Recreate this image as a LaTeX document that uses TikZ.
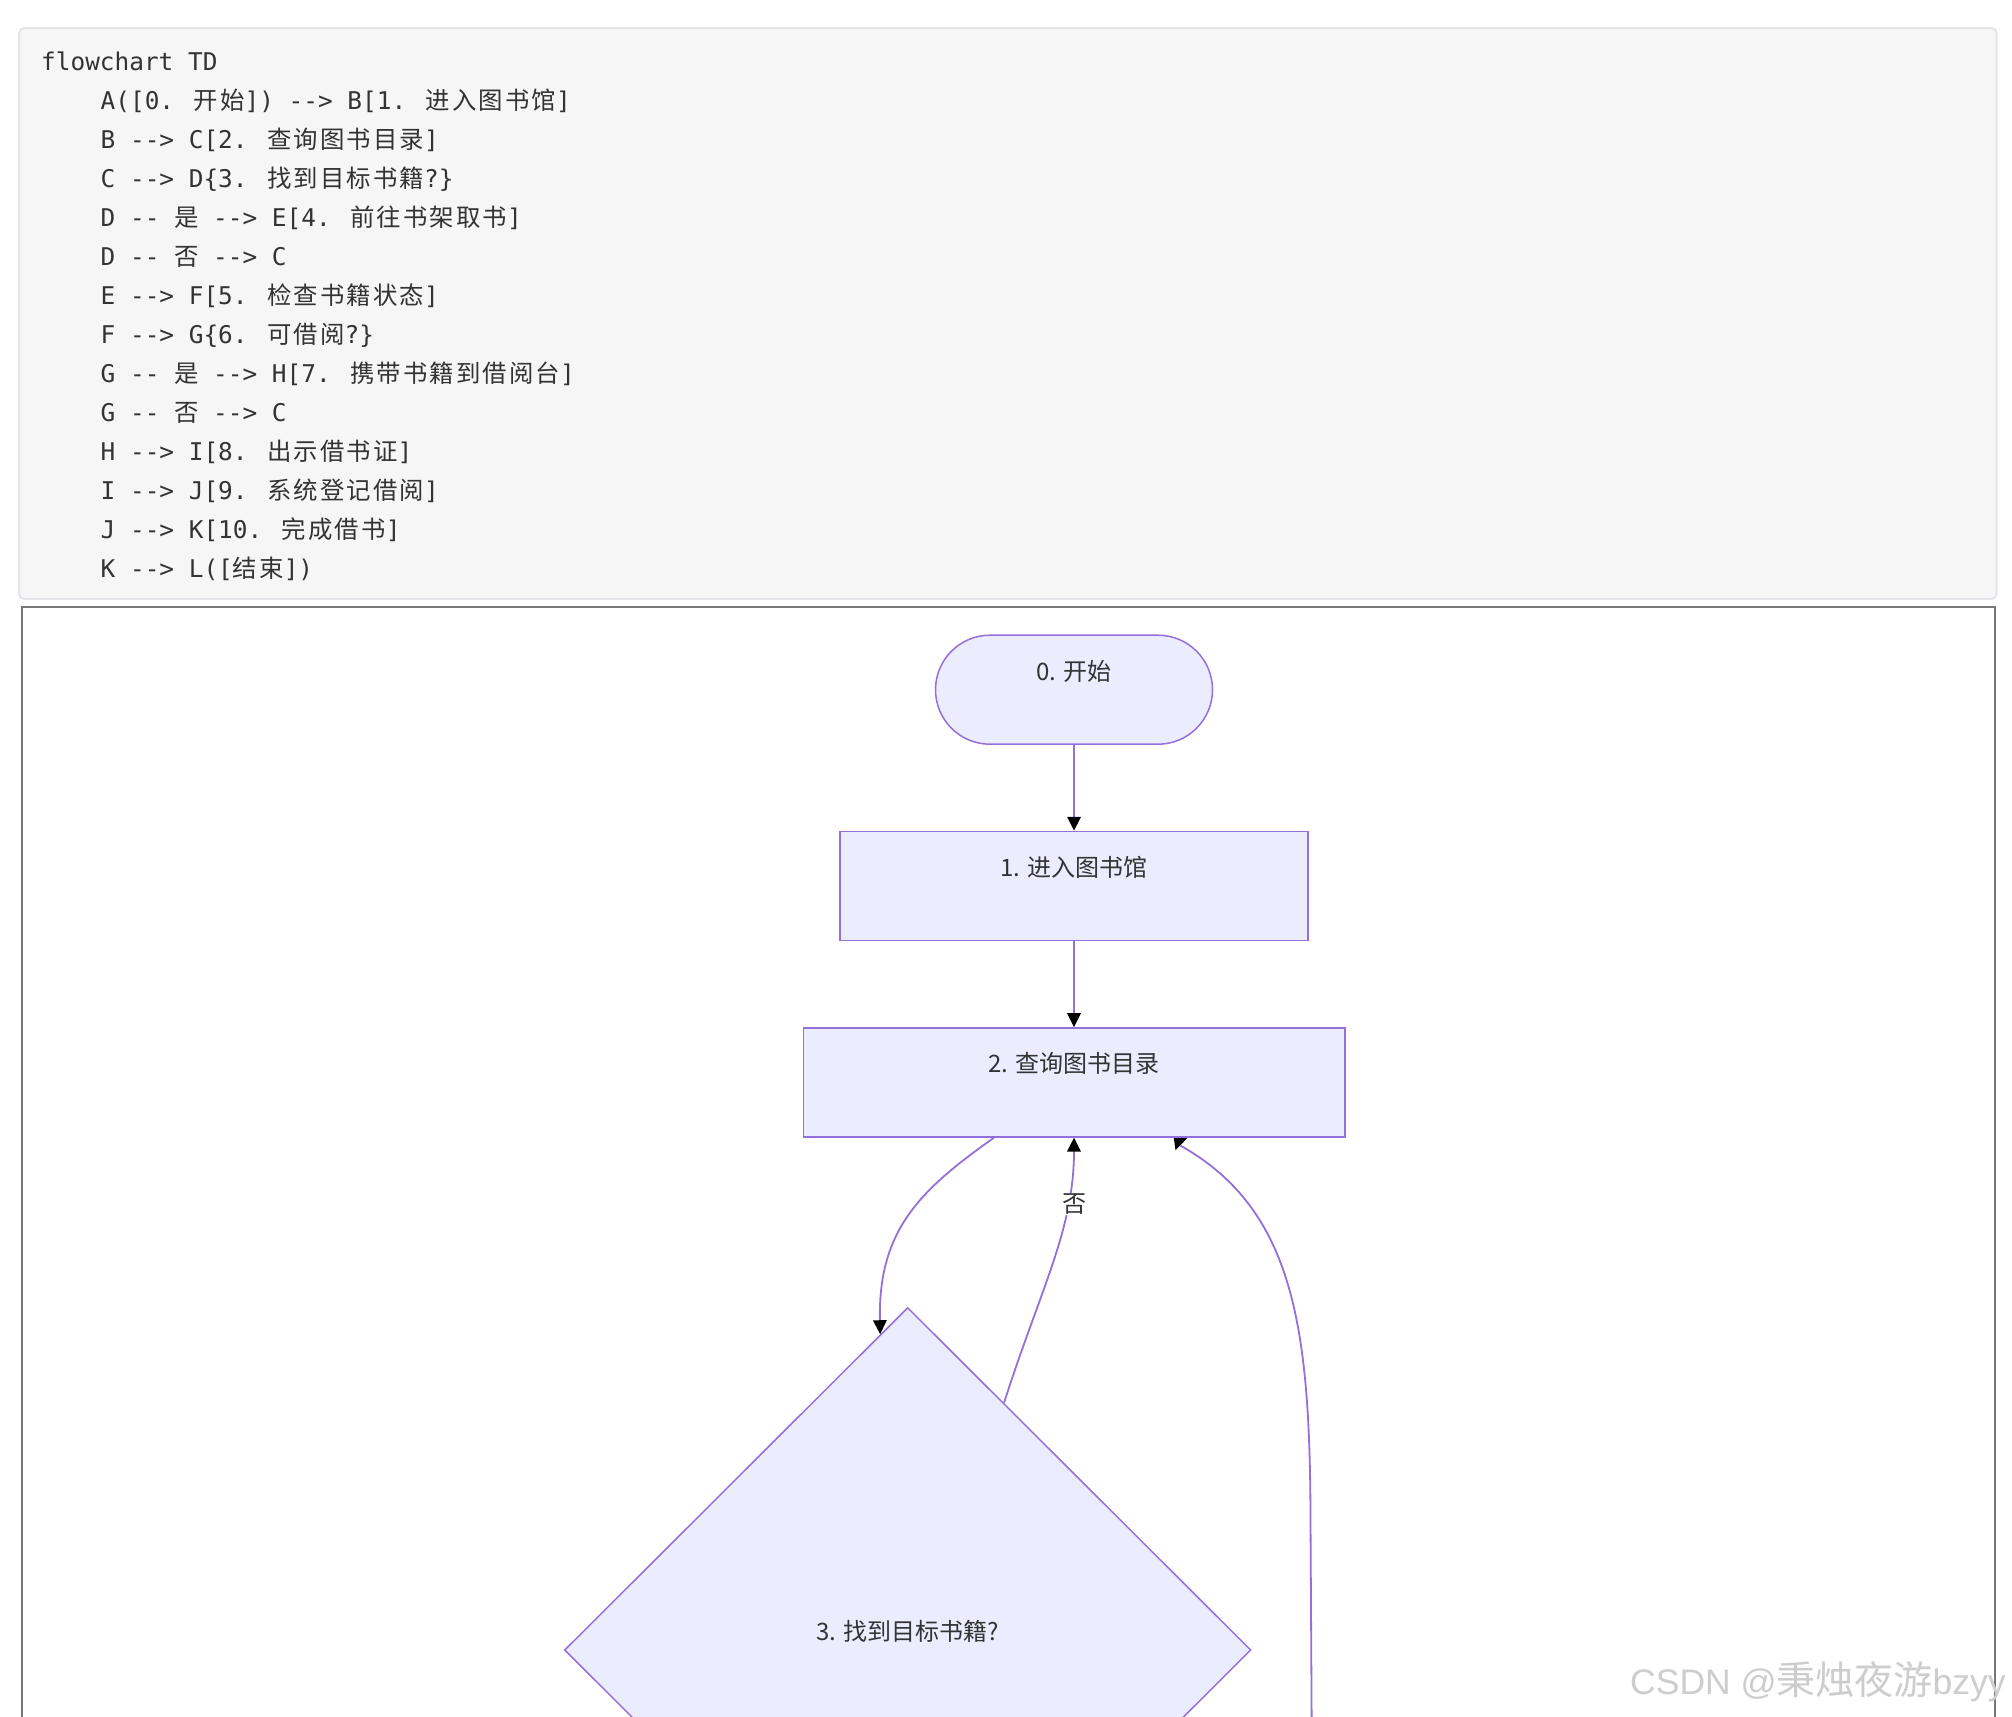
\documentclass[tikz,border=0pt]{standalone}
\usepackage{fontspec}
\usetikzlibrary{arrows.meta,shapes.geometric,calc}
\newfontfamily\cjk{Noto Sans CJK SC}
\newfontfamily\codefont{DejaVu Sans Mono}[Ligatures=TeXOff]
\newfontfamily\codecjk{Noto Sans CJK SC}[LetterSpace=8.6]
\newfontfamily\wmlatin{Liberation Sans}
\newcommand{\zh}[1]{{\codecjk #1}}
\newcommand{\wz}[1]{{\cjk\fontsize{39}{42}\selectfont #1}}
\definecolor{nodefill}{HTML}{ECECFF}
\definecolor{nodeline}{HTML}{9370DB}
\definecolor{txt}{HTML}{333333}
\definecolor{codebg}{HTML}{F6F6F6}
\definecolor{codeborder}{HTML}{E3E5E8}
\definecolor{frameline}{HTML}{777777}
\definecolor{wmark}{HTML}{CDCDCD}
\begin{document}
\begin{tikzpicture}[x=1pt,y=-1pt,
  codebox/.style={draw=codeborder, fill=codebg, line width=2pt, rounded corners=5pt, rectangle, inner sep=0},
  codeline/.style={anchor=base west, inner sep=0, text=txt, font=\codefont\fontsize{24.4}{30}\selectfont},
  box/.style={draw=nodeline, fill=nodefill, line width=1.5pt, rectangle, minimum height=109pt, inner sep=0},
  stadium/.style={box, rounded corners=54.5pt, minimum width=277pt},
  decision/.style={draw=nodeline, fill=nodefill, line width=1.5pt, diamond, aspect=1, minimum width=686.5pt, minimum height=685pt, inner sep=0},
  ntext/.style={inner sep=0, text=txt, font=\cjk\fontsize{24}{28}\selectfont},
  flow/.style={draw=nodeline, line width=1.8pt, -{Triangle[length=14pt,width=13.5pt,color=black]}},
  plainflow/.style={draw=nodeline, line width=1.8pt},
  frame/.style={draw=frameline, line width=2pt}
]
\useasboundingbox (0,0) rectangle (2012,1716);
\fill[white] (0,0) rectangle (2012,1716);

% code block
\node[codebox, minimum width=1977.4pt, minimum height=570.8pt] (code) at (1007.9,313.6) {};
\node[codeline] (l0)  at (41,70.5)     {flowchart TD};
\node[codeline] (l1)  at (100.5,109.5) {A([0. \zh{开始}]) --> B[1. \zh{进入图书馆}]};
\node[codeline] (l2)  at (100.5,148.5) {B --> C[2. \zh{查询图书目录}]};
\node[codeline] (l3)  at (100.5,187.5) {C --> D\{3. \zh{找到目标书籍}?\}};
\node[codeline] (l4)  at (100.5,226.5) {D -- \zh{是} --> E[4. \zh{前往书架取书}]};
\node[codeline] (l5)  at (100.5,265.5) {D -- \zh{否} --> C};
\node[codeline] (l6)  at (100.5,304.5) {E --> F[5. \zh{检查书籍状态}]};
\node[codeline] (l7)  at (100.5,343.5) {F --> G\{6. \zh{可借阅}?\}};
\node[codeline] (l8)  at (100.5,382.5) {G -- \zh{是} --> H[7. \zh{携带书籍到借阅台}]};
\node[codeline] (l9)  at (100.5,421.5) {G -- \zh{否} --> C};
\node[codeline] (l10) at (100.5,460.5) {H --> I[8. \zh{出示借书证}]};
\node[codeline] (l11) at (100.5,499.5) {I --> J[9. \zh{系统登记借阅}]};
\node[codeline] (l12) at (100.5,538.5) {J --> K[10. \zh{完成借书}]};
\node[codeline] (l13) at (100.5,577.5) {K --> L([\zh{结束}])};

% diagram frame
\draw[frame] (21.8,1730) -- (21.8,607) -- (1995.3,607) -- (1995.3,1730);

% nodes
\node[stadium] (A) at (1074,689.7) {};
\node[ntext] (At) at (1074,671) {0. 开始};
\node[box, minimum width=468pt] (B) at (1074,886) {};
\node[ntext] (Bt) at (1074,867.4) {1. 进入图书馆};
\node[box, minimum width=541.5pt] (C) at (1074,1082.4) {};
\node[ntext] (Ct) at (1074,1063.7) {2. 查询图书目录};
\node[decision] (D) at (907.7,1650) {};
\node[ntext] (Dt) at (907.7,1631) {3. 找到目标书籍?};

% connectors
\draw[flow] (A.south) -- (B.north);
\draw[flow] (B.south) -- (C.north);
\coordinate (CDs) at ($(C.south west)!0.3527!(C.south east)$);
\coordinate (CDe) at ($(D.north)!0.08!(D.west)$);
\draw[flow] (CDs) .. controls (920,1190) and (878,1230) .. (CDe);
\coordinate (DCs) at ($(D.north)!0.28!(D.east)$);
\draw[flow] (DCs) .. controls (1040,1290) and (1074,1230) .. (C.south);
\node[ntext, fill=white, inner sep=1pt] (no) at (1074,1204) {否};
\coordinate (Gin) at (1311.7,1730);
\coordinate (GCe) at ($(C.south west)!0.6962!(C.south east)$);
\draw[plainflow] (Gin) -- (1310.5,1520) .. controls (1310,1330) and (1295,1210) .. ($(GCe)+(0,8)$);
\fill[black] ($(GCe)+(-6.7,0.5)$) -- ($(GCe)+(6.7,0.5)$) -- ($(GCe)+(-5,12.5)$) -- cycle;

% watermark
\node[anchor=west, inner sep=0, text=wmark, font=\wmlatin\fontsize{35.5}{42}\selectfont] (wm) at (1630,1682) {CSDN @\wz{秉烛夜游}bzyy};
\end{tikzpicture}
\end{document}
